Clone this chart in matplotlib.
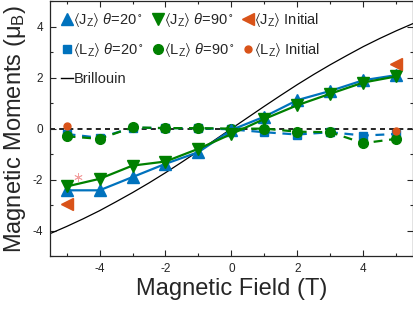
import matplotlib
matplotlib.use("Agg")
import matplotlib.pyplot as plt
from matplotlib.lines import Line2D
from matplotlib.ticker import MultipleLocator

plt.rcParams['font.family'] = ['Liberation Sans', 'DejaVu Sans']
plt.rcParams['mathtext.fontset'] = 'custom'
plt.rcParams['mathtext.rm'] = 'Liberation Sans'
plt.rcParams['mathtext.it'] = 'Liberation Sans:italic'
plt.rcParams['mathtext.fallback'] = 'stixsans'
plt.rcParams['axes.unicode_minus'] = False

# ---- data ----
field = [-5, -4, -3, -2, -1, 0, 1, 2, 3, 4, 5]
jz_20 = [-2.42, -2.42, -1.90, -1.38, -0.92, -0.05, 0.47, 1.12, 1.48, 1.90, 2.10]
jz_90 = [-2.27, -1.97, -1.45, -1.29, -0.79, -0.21, 0.38, 0.92, 1.37, 1.81, 2.05]
lz_20 = [-0.21, -0.36, 0.04, 0.02, 0.02, -0.03, -0.14, -0.23, -0.14, -0.27, -0.21]
lz_90 = [-0.30, -0.40, 0.05, 0.02, 0.02, 0.00, 0.00, -0.12, -0.14, -0.57, -0.40]
init_field = [-5, 5]
jz_init = [-2.94, 2.53]
lz_init = [0.12, -0.10]
stray_field = [-4.64]
stray_val = [-1.90]
brill_field = [-5.5, -5.0, -4.5, -4.0, -3.5, -3.0, -2.5, -2.0, -1.5, -1.0, -0.5, 0.0,
               0.5, 1.0, 1.5, 2.0, 2.5, 3.0, 3.5, 4.0, 4.5, 5.0, 5.5]
brill_val = [-4.12, -3.84, -3.54, -3.22, -2.87, -2.51, -2.13, -1.73, -1.31, -0.88, -0.44, 0.0,
             0.44, 0.88, 1.31, 1.73, 2.13, 2.51, 2.87, 3.22, 3.54, 3.84, 4.12]

blue = '#0072BD'
green = '#008000'
orange = '#D95319'
axcol = '#262626'

fig = plt.figure(figsize=(4.14, 3.10), dpi=100)
ax = fig.add_axes([0.121, 0.174, 0.876, 0.822])

ax.axhline(0, color='black', lw=1.2, ls=(0, (3, 2.5)), zorder=1)
ax.plot(brill_field, brill_val, color='black', lw=0.9, zorder=2)

ax.plot(field, lz_20, color=blue, lw=1.6, ls=(0, (4, 3)), marker='s', ms=5.5, zorder=3)
ax.plot(field, lz_90, color=green, lw=1.6, ls=(0, (4, 3)), marker='o', ms=7, zorder=4)
ax.plot(field, jz_20, color=blue, lw=1.6, marker='^', ms=8, zorder=5)
ax.plot(field, jz_90, color=green, lw=1.6, marker='v', ms=8, zorder=6)
ax.plot(init_field, jz_init, ls='none', marker='<', ms=8, color=orange, zorder=7)
ax.plot(init_field, lz_init, ls='none', marker='o', ms=5, color=orange, zorder=7)
ax.plot(stray_field, stray_val, ls='none', marker=(6, 2, 0), ms=6, mew=0.6,
        color='#f2a0a0', zorder=7)

ax.set_xlim(-5.5, 5.5)
ax.set_ylim(-5, 5)
ax.xaxis.set_major_locator(MultipleLocator(2))
ax.xaxis.set_minor_locator(MultipleLocator(1))
ax.yaxis.set_major_locator(MultipleLocator(2))
ax.yaxis.set_minor_locator(MultipleLocator(1))
ax.tick_params(which='both', direction='in', top=True, right=True, colors=axcol,
               labelsize=8.5, width=0.8)
ax.tick_params(which='major', length=4.3, pad=5)
ax.tick_params(which='minor', length=2.2)
for s in ax.spines.values():
    s.set_color(axcol)
    s.set_linewidth(0.9)

ax.set_xlabel('Magnetic Field (T)', fontsize=17, color=axcol, labelpad=2)
ax.set_ylabel('Magnetic Moments (μ$_\\mathrm{B}$)', fontsize=17, color=axcol, labelpad=3)

LA = '$\\langle$'
RA = '$\\rangle$'
SUBZ = '$_\\mathregular{Z}$'
lbl_j20 = LA + 'J' + SUBZ + RA + ' $\\theta$=20$^\\circ$'
lbl_j90 = LA + 'J' + SUBZ + RA + ' $\\theta$=90$^\\circ$'
lbl_ji = LA + 'J' + SUBZ + RA + ' Initial'
lbl_l20 = LA + 'L' + SUBZ + RA + ' $\\theta$=20$^\\circ$'
lbl_l90 = LA + 'L' + SUBZ + RA + ' $\\theta$=90$^\\circ$'
lbl_li = LA + 'L' + SUBZ + RA + ' Initial'

columns = [
    [Line2D([], [], ls='none', marker='^', ms=8.5, color=blue, label=lbl_j20),
     Line2D([], [], ls='none', marker='s', ms=5.5, color=blue, label=lbl_l20),
     Line2D([], [], color='black', lw=1.0, label='Brillouin')],
    [Line2D([], [], ls='none', marker='v', ms=8.5, color=green, label=lbl_j90),
     Line2D([], [], ls='none', marker='o', ms=7, color=green, label=lbl_l90)],
    [Line2D([], [], ls='none', marker='<', ms=8.5, color=orange, label=lbl_ji),
     Line2D([], [], ls='none', marker='o', ms=5, color=orange, label=lbl_li)],
]
col_x = [0.030, 0.281, 0.529]
for i, (hs, xx) in enumerate(zip(columns, col_x)):
    leg = ax.legend(handles=hs, loc='upper left', frameon=False, fontsize=10.5,
                    handlelength=0.8, handletextpad=0.05, borderpad=0.0,
                    labelspacing=0.85, borderaxespad=0.0, bbox_to_anchor=(xx, 0.962))
    for t in leg.get_texts():
        t.set_color(axcol)
    if i < len(columns) - 1:
        ax.add_artist(leg)

fig.savefig('out.png', dpi=100)
